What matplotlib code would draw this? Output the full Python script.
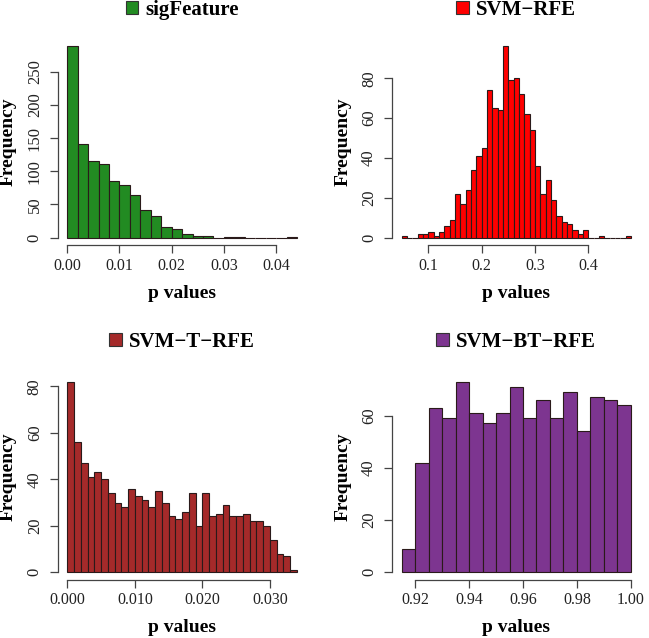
import numpy as np
import matplotlib.pyplot as plt
from matplotlib.patches import Patch

plt.rcParams['font.family'] = ['Liberation Serif', 'DejaVu Serif']

# histogram counts (1000 values each)
sig_start, sig_width = 0.0, 0.002
sig_counts = [288, 141, 115, 111, 86, 80, 64, 41, 33, 16, 13, 5, 2, 2,
              0, 1, 1, 0, 0, 0, 0, 1]

rfe_start, rfe_width = 0.05, 0.01
rfe_counts = [1, 0, 0, 2, 2, 3, 1, 3, 6, 9, 22, 17, 24, 34, 41, 45, 74, 65,
              64, 96, 79, 80, 72, 62, 54, 36, 22, 29, 19, 11, 8, 7, 4, 2, 4,
              0, 0, 1, 0, 0, 0, 0, 1]

trfe_start, trfe_width = 0.0, 0.001
trfe_counts = [82, 56, 47, 41, 43, 40, 34, 30, 28, 36, 33, 31, 28, 35, 30,
               24, 23, 26, 34, 20, 34, 24, 25, 29, 24, 24, 25, 22, 22, 20,
               14, 8, 7, 1]

btrfe_start, btrfe_width = 0.915, 0.005
btrfe_counts = [9, 42, 63, 59, 73, 61, 57, 61, 71, 59, 66, 59, 69, 54, 67,
                66, 64]

panels = [
    ("sigFeature", "#228B22", sig_start, sig_width, sig_counts,
     [0.0, 0.01, 0.02, 0.03, 0.04], "%.2f", [0, 50, 100, 150, 200, 250]),
    ("SVM\u2212RFE", "#FF0000", rfe_start, rfe_width, rfe_counts,
     [0.1, 0.2, 0.3, 0.4], "%.1f", [0, 20, 40, 60, 80]),
    ("SVM\u2212T\u2212RFE", "#A52A2A", trfe_start, trfe_width, trfe_counts,
     [0.0, 0.01, 0.02, 0.03], "%.3f", [0, 20, 40, 60, 80]),
    ("SVM\u2212BT\u2212RFE", "#7D3590", btrfe_start, btrfe_width, btrfe_counts,
     [0.92, 0.94, 0.96, 0.98, 1.00], "%.2f", [0, 20, 40, 60]),
]

W, H = 649, 638
cols = [(58.1, 306.2), (392.4, 640.1)]
rows = [(38.8, 245.3), (374.0, 579.9)]
title_y = [1.14, 1.157]
axis_col = "#444444"

fig = plt.figure(figsize=(W / 100, H / 100), dpi=100)

for i, (name, col, start, width, counts, xt, fmt, yt) in enumerate(panels):
    (x0, x1) = cols[i % 2]
    (y0, y1) = rows[i // 2]
    ax = fig.add_axes([x0 / W, 1 - y1 / H, (x1 - x0) / W, (y1 - y0) / H])

    counts = np.array(counts)
    edges = start + width * np.arange(len(counts) + 1)
    ax.bar(edges[:-1], counts, width=width, align='edge', color=col,
           edgecolor="#2a1a1a", linewidth=0.8)

    # R-style 4% padding
    lo, hi = edges[0], edges[-1]
    pad = 0.04 * (hi - lo)
    ax.set_xlim(lo - pad, hi + pad)
    ymax = counts.max()
    ax.set_ylim(-0.04 * ymax, ymax * 1.04)

    for s in ['top', 'right']:
        ax.spines[s].set_visible(False)
    ax.spines['left'].set_bounds(yt[0], yt[-1])
    ax.spines['bottom'].set_bounds(xt[0], xt[-1])
    for s in ['left', 'bottom']:
        ax.spines[s].set_color(axis_col)
        ax.spines[s].set_linewidth(0.9)

    ax.set_xticks(xt)
    ax.set_xticklabels([fmt % v for v in xt])
    ax.set_yticks(yt)
    ax.set_yticklabels([str(v) for v in yt], rotation=90, va='center')
    ax.tick_params(axis='both', length=6, width=0.9, color=axis_col,
                   labelcolor="#222222")
    ax.tick_params(axis='x', pad=3, labelsize=11.5)
    ax.tick_params(axis='y', pad=5, labelsize=12)

    ax.set_xlabel("p values", fontsize=14, fontweight='bold', va='center')
    ax.xaxis.set_label_coords(0.5, -0.232)
    ax.set_ylabel("Frequency", fontsize=14, fontweight='bold', va='center')
    ax.yaxis.set_label_coords(-0.2, 0.5)

    handle = Patch(facecolor=col, edgecolor="#333333", linewidth=0.8)
    ax.legend(handles=[handle], labels=[name], loc='center',
              bbox_to_anchor=(0.5, title_y[i // 2]), frameon=False,
              prop={'size': 15, 'weight': 'bold'},
              handlelength=0.6, handleheight=0.6, handletextpad=0.35,
              borderaxespad=0, borderpad=0)

fig.savefig("out.png", dpi=100)
